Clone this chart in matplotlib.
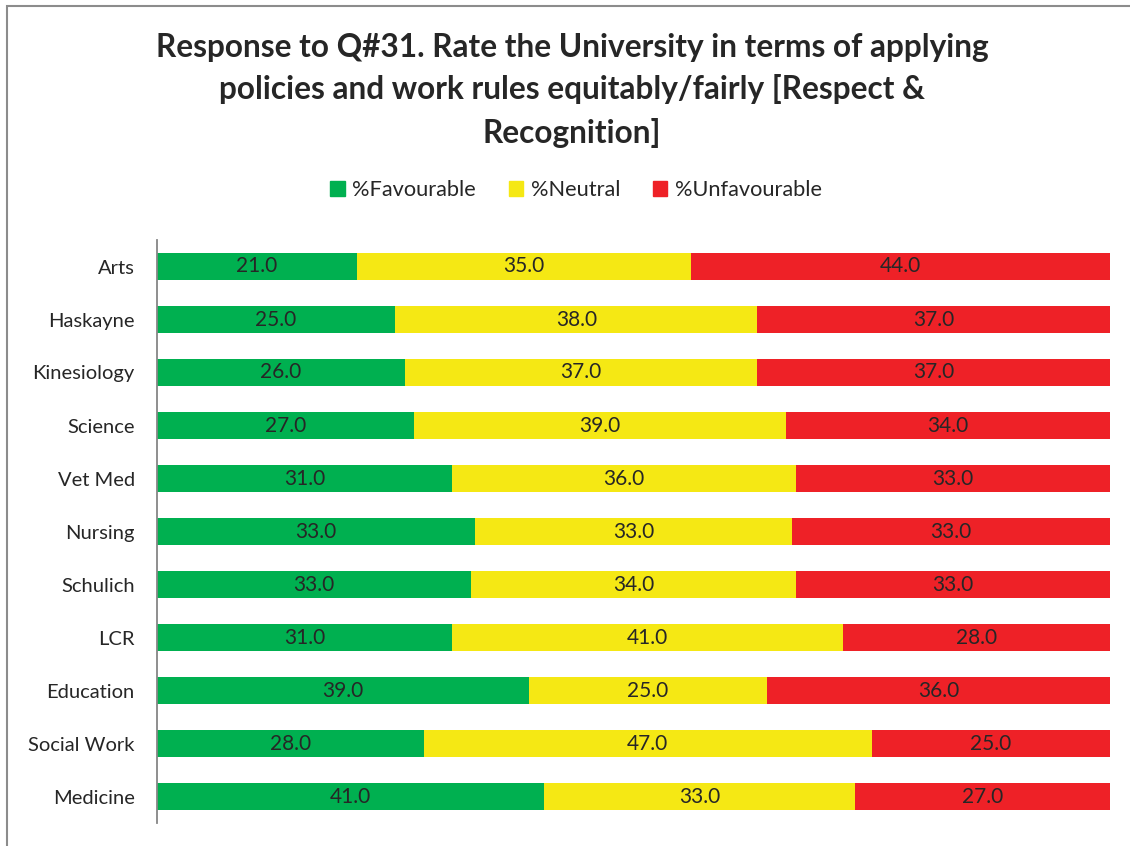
import matplotlib
matplotlib.use("Agg")
import matplotlib.pyplot as plt
from matplotlib.patches import Rectangle
import numpy as np

categories = ["Arts", "Haskayne", "Kinesiology", "Science", "Vet Med", "Nursing",
              "Schulich", "LCR", "Education", "Social Work", "Medicine"]
favourable = [21.0, 25.0, 26.0, 27.0, 31.0, 33.0, 33.0, 31.0, 39.0, 28.0, 41.0]
neutral = [35.0, 38.0, 37.0, 39.0, 36.0, 33.0, 34.0, 41.0, 25.0, 47.0, 33.0]
unfavourable = [44.0, 37.0, 37.0, 34.0, 33.0, 33.0, 33.0, 28.0, 36.0, 25.0, 27.0]
series_names = ["%Favourable", "%Neutral", "%Unfavourable"]
colors = ["#00B050", "#F5E814", "#EE2127"]
title = ("Response to Q#31. Rate the University in terms of applying\n"
         "policies and work rules equitably/fairly [Respect &\nRecognition]")

plt.rcParams['font.family'] = ['Lato', 'DejaVu Sans']
text_color = "#262626"

fig = plt.figure(figsize=(11.30, 8.46), dpi=100)
ax = fig.add_axes([157/1130, 1-823/846, (1110-157)/1130, (823-240)/846])

data = np.array([favourable, neutral, unfavourable])
totals = data.sum(axis=0)
pct = data / totals * 100
y = np.arange(len(categories))
left = np.zeros(len(categories))
for i in range(3):
    bars = ax.barh(y, pct[i], left=left, height=0.5, color=colors[i],
                   label=series_names[i], edgecolor='none')
    for j, b in enumerate(bars):
        ax.text(left[j] + pct[i][j] / 2, y[j], f"{data[i][j]:.1f}",
                ha='center', va='center', fontsize=15, color=text_color)
    left += pct[i]

ax.set_xlim(0, 100)
ax.set_ylim(len(categories) - 0.5, -0.5)
ax.set_yticks(y)
ax.set_yticklabels(categories, fontsize=14.5, color=text_color)
ax.tick_params(axis='y', length=0, pad=16)
ax.set_xticks([])
for s in ['top', 'right', 'bottom']:
    ax.spines[s].set_visible(False)
ax.spines['left'].set_color('#868686')
ax.spines['left'].set_linewidth(1.3)

fig.text(572/1130, 1-90/846, title, ha='center', va='center', fontsize=22.8,
         fontweight='bold', color=text_color, linespacing=1.52)

handles = [Rectangle((0, 0), 1, 1, color=c) for c in colors]
fig.legend(handles, series_names, loc='center', bbox_to_anchor=(576/1130, 1-190/846),
           ncol=3, frameon=False, fontsize=15.7, handlelength=0.65, handleheight=0.65,
           handletextpad=0.35, columnspacing=1.5, labelcolor=text_color)

# chart border (outer frame)
fig.patches.append(Rectangle((7/1130, -0.1), 1.2, 1-6/846 + 0.1, transform=fig.transFigure,
                             fill=False, edgecolor='#8C8C8C', linewidth=1.5))

fig.savefig("out.png", dpi=100)
